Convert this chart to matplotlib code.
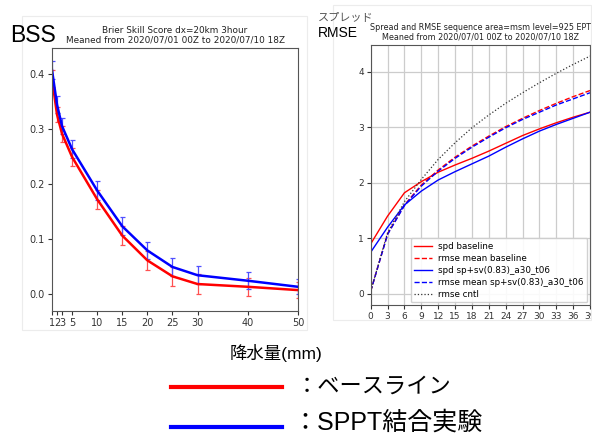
import matplotlib
matplotlib.use("Agg")
import matplotlib.pyplot as plt
from matplotlib.patches import Rectangle
from matplotlib.lines import Line2D

# ---- Data: BSS panel ----
thresholds = [1, 2, 3, 5, 10, 15, 20, 25, 30, 40, 50]
bss_baseline = [0.393, 0.327, 0.292, 0.250, 0.173, 0.107, 0.062, 0.033, 0.019, 0.014, 0.008]
bss_sppt = [0.408, 0.345, 0.306, 0.264, 0.189, 0.124, 0.080, 0.050, 0.035, 0.025, 0.014]
err_baseline = [0.015, 0.014, 0.015, 0.016, 0.017, 0.017, 0.017, 0.017, 0.018, 0.016, 0.015]
err_sppt = [0.016, 0.015, 0.015, 0.016, 0.017, 0.016, 0.016, 0.016, 0.016, 0.015, 0.014]

# ---- Data: Spread / RMSE panel ----
hours = [0, 3, 6, 9, 12, 15, 18, 21, 24, 27, 30, 33, 36, 39]
spd_baseline = [0.90, 1.40, 1.82, 2.02, 2.19, 2.32, 2.44, 2.57, 2.71, 2.85, 2.97, 3.08, 3.18, 3.27]
rmse_baseline = [0.05, 1.08, 1.60, 1.96, 2.23, 2.46, 2.66, 2.84, 3.01, 3.16, 3.30, 3.43, 3.55, 3.66]
spd_sppt = [0.75, 1.20, 1.60, 1.85, 2.05, 2.20, 2.34, 2.48, 2.64, 2.79, 2.93, 3.05, 3.16, 3.27]
rmse_sppt = [0.05, 1.07, 1.59, 1.94, 2.21, 2.44, 2.64, 2.82, 2.99, 3.14, 3.27, 3.40, 3.51, 3.62]
rmse_cntl = [0.05, 1.10, 1.66, 2.06, 2.42, 2.72, 2.99, 3.22, 3.43, 3.62, 3.80, 3.97, 4.13, 4.28]

left_title = "Brier Skill Score dx=20km 3hour\nMeaned from 2020/07/01 00Z to 2020/07/10 18Z"
right_title = "Spread and RMSE sequence area=msm level=925 EPT\nMeaned from 2020/07/01 00Z to 2020/07/10 18Z"
legend_labels = ["spd baseline", "rmse mean baseline", "spd sp+sv(0.83)_a30_t06",
                 "rmse mean sp+sv(0.83)_a30_t06", "rmse cntl"]

plt.rcParams['font.family'] = ['DejaVu Sans', 'Noto Sans CJK JP']
JP = ['Liberation Sans', 'Noto Sans CJK JP']

W, H = 592, 436
fig = plt.figure(figsize=(W / 100, H / 100), dpi=100)

# faint panel frames (pasted-image borders)
fig.add_artist(Rectangle((22 / W, 1 - 330 / H), 285 / W, 314 / H, transform=fig.transFigure,
                         fill=False, ec='#ececec', lw=0.8))
fig.add_artist(Rectangle((333 / W, 1 - 320 / H), 258 / W, 315 / H, transform=fig.transFigure,
                         fill=False, ec='#ececec', lw=0.8))

# ---- Left panel ----
ax1 = fig.add_axes([52 / W, 1 - 311 / H, 246 / W, 263 / H])
ax1.errorbar(thresholds, bss_baseline, yerr=err_baseline, color='red', lw=1.8,
             ecolor='#ff5050', elinewidth=0.9, capsize=1.8, capthick=0.9)
ax1.errorbar(thresholds, bss_sppt, yerr=err_sppt, color='blue', lw=1.8,
             ecolor='#5050ff', elinewidth=0.9, capsize=1.8, capthick=0.9)
ax1.set_xlim(1, 50)
ax1.set_ylim(-0.03, 0.448)
ax1.set_xticks(thresholds)
ax1.set_xticklabels([str(t) for t in thresholds])
ax1.set_yticks([0.0, 0.1, 0.2, 0.3, 0.4])
ax1.tick_params(labelsize=7, length=3, colors='#333333', pad=2)
for s in ax1.spines.values():
    s.set_color('#555555')
    s.set_linewidth(0.8)
ax1.set_title(left_title, fontsize=6.4, pad=4, color='#222222', linespacing=1.1)

# ---- Right panel ----
ax2 = fig.add_axes([370.7 / W, 1 - 305 / H, 219.3 / W, 260 / H])
ax2.plot(hours, spd_baseline, color='red', lw=1.0, label=legend_labels[0])
ax2.plot(hours, rmse_baseline, color='red', lw=1.0, ls='--', label=legend_labels[1])
ax2.plot(hours, spd_sppt, color='blue', lw=1.0, label=legend_labels[2])
ax2.plot(hours, rmse_sppt, color='blue', lw=1.0, ls='--', label=legend_labels[3])
ax2.plot(hours, rmse_cntl, color='#333333', lw=0.9, ls=':', label=legend_labels[4])
ax2.set_xlim(0, 39)
ax2.set_ylim(-0.2, 4.48)
ax2.set_xticks(hours)
ax2.set_yticks([0, 1, 2, 3, 4])
ax2.grid(True, color='#cccccc', lw=0.9)
ax2.set_axisbelow(True)
ax2.tick_params(labelsize=6.5, length=3, colors='#333333', pad=2)
for s in ax2.spines.values():
    s.set_color('#555555')
    s.set_linewidth(0.8)
ax2.set_title(right_title, fontsize=5.8, pad=4, color='#222222', linespacing=1.1)
ax2.legend(loc='lower right', fontsize=6.3, framealpha=0.9, handlelength=2.0,
           borderpad=0.4, labelspacing=0.35, borderaxespad=0.3, edgecolor='#cccccc')

# ---- Annotations ----
fig.text(10 / W, 1 - 42 / H, "BSS", fontsize=16.5, family='Liberation Sans', color='black')
fig.text(318 / W, 1 - 20 / H, "スプレッド", fontsize=8, family='Noto Sans CJK JP', color='#555555')
fig.text(318 / W, 1 - 37 / H, "RMSE", fontsize=10, family='Liberation Sans', color='black')
fig.text(276 / W, 1 - 353 / H, "降水量(mm)", fontsize=12.5, family=JP,
         ha='center', va='center')

fig.add_artist(Line2D([171 / W, 282 / W], [1 - 387 / H, 1 - 387 / H], transform=fig.transFigure,
                      color='red', lw=3))
fig.add_artist(Line2D([171 / W, 282 / W], [1 - 427 / H, 1 - 427 / H], transform=fig.transFigure,
                      color='blue', lw=3))
fig.text(296 / W, 1 - 387 / H, "：ベースライン", fontsize=16, family=JP,
         va='center', ha='left')
fig.text(292 / W, 1 - 423 / H, "：SPPT結合実験", fontsize=18, family=JP,
         va='center', ha='left')

fig.savefig("out.png", dpi=100)
